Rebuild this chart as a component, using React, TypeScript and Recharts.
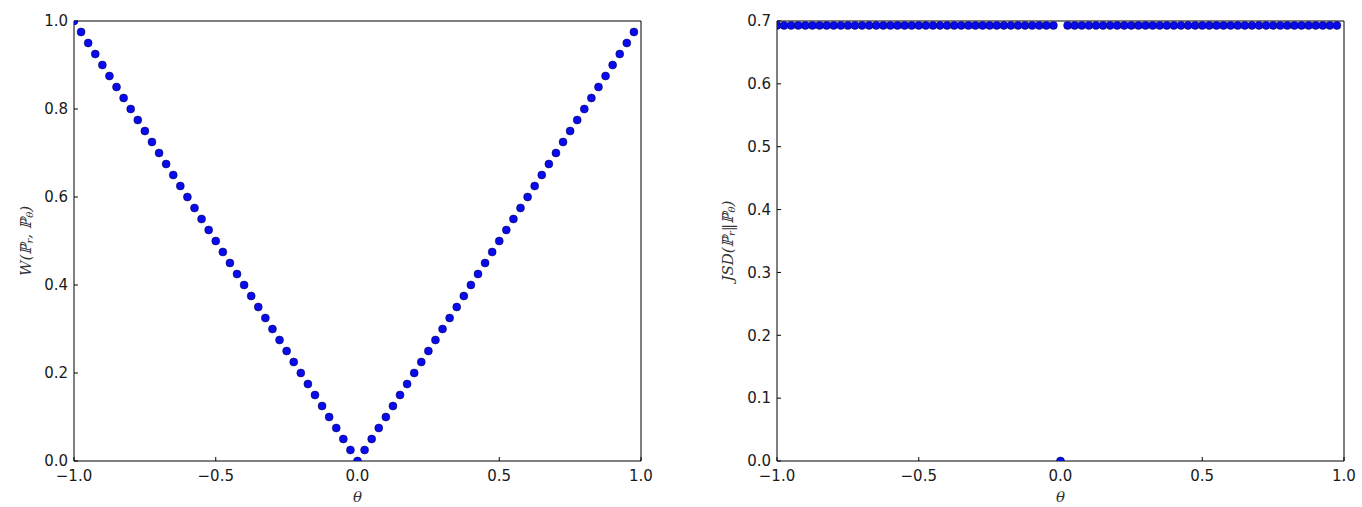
import React from 'react';
import { ScatterChart, Scatter, XAxis, YAxis } from 'recharts';

const thetaValues = [
  -1.0, -0.975, -0.95, -0.925, -0.9, -0.875, -0.85, -0.825, -0.8, -0.775,
  -0.75, -0.725, -0.7, -0.675, -0.65, -0.625, -0.6, -0.575, -0.55, -0.525,
  -0.5, -0.475, -0.45, -0.425, -0.4, -0.375, -0.35, -0.325, -0.3, -0.275,
  -0.25, -0.225, -0.2, -0.175, -0.15, -0.125, -0.1, -0.075, -0.05, -0.025,
  0.0, 0.025, 0.05, 0.075, 0.1, 0.125, 0.15, 0.175, 0.2, 0.225,
  0.25, 0.275, 0.3, 0.325, 0.35, 0.375, 0.4, 0.425, 0.45, 0.475,
  0.5, 0.525, 0.55, 0.575, 0.6, 0.625, 0.65, 0.675, 0.7, 0.725,
  0.75, 0.775, 0.8, 0.825, 0.85, 0.875, 0.9, 0.925, 0.95, 0.975,
];

const wassersteinValues = [
  1.0, 0.975, 0.95, 0.925, 0.9, 0.875, 0.85, 0.825, 0.8, 0.775,
  0.75, 0.725, 0.7, 0.675, 0.65, 0.625, 0.6, 0.575, 0.55, 0.525,
  0.5, 0.475, 0.45, 0.425, 0.4, 0.375, 0.35, 0.325, 0.3, 0.275,
  0.25, 0.225, 0.2, 0.175, 0.15, 0.125, 0.1, 0.075, 0.05, 0.025,
  0.0, 0.025, 0.05, 0.075, 0.1, 0.125, 0.15, 0.175, 0.2, 0.225,
  0.25, 0.275, 0.3, 0.325, 0.35, 0.375, 0.4, 0.425, 0.45, 0.475,
  0.5, 0.525, 0.55, 0.575, 0.6, 0.625, 0.65, 0.675, 0.7, 0.725,
  0.75, 0.775, 0.8, 0.825, 0.85, 0.875, 0.9, 0.925, 0.95, 0.975,
];

const jsdValues = [
  0.693, 0.693, 0.693, 0.693, 0.693, 0.693, 0.693, 0.693, 0.693, 0.693,
  0.693, 0.693, 0.693, 0.693, 0.693, 0.693, 0.693, 0.693, 0.693, 0.693,
  0.693, 0.693, 0.693, 0.693, 0.693, 0.693, 0.693, 0.693, 0.693, 0.693,
  0.693, 0.693, 0.693, 0.693, 0.693, 0.693, 0.693, 0.693, 0.693, 0.693,
  0.0, 0.693, 0.693, 0.693, 0.693, 0.693, 0.693, 0.693, 0.693, 0.693,
  0.693, 0.693, 0.693, 0.693, 0.693, 0.693, 0.693, 0.693, 0.693, 0.693,
  0.693, 0.693, 0.693, 0.693, 0.693, 0.693, 0.693, 0.693, 0.693, 0.693,
  0.693, 0.693, 0.693, 0.693, 0.693, 0.693, 0.693, 0.693, 0.693, 0.693,
];

const thetaTicks = [-1.0, -0.5, 0.0, 0.5, 1.0];
const wTicks = [0.0, 0.2, 0.4, 0.6, 0.8, 1.0];
const jsdTicks = [0.0, 0.1, 0.2, 0.3, 0.4, 0.5, 0.6, 0.7];

const wData = thetaValues.map((t, i) => ({ theta: t, value: wassersteinValues[i] }));
const jsdData = thetaValues.map((t, i) => ({ theta: t, value: jsdValues[i] }));

const fmtTick = (v: number) => (v < 0 ? '\u2212' + Math.abs(v).toFixed(1) : Math.abs(v).toFixed(1));

const tickStyle = { fontSize: 15, fill: '#1a1a1a', fontFamily: 'DejaVu Sans' };
const lineStyle = { stroke: '#000', strokeWidth: 1 };

const Dot = (props: any) => (
  <circle cx={props.cx} cy={props.cy} r={4} fill="#0a0aee" stroke="#00003a" strokeWidth={0.5} />
);

const NoDot = () => <g />;

const YLabel = (props: any) => {
  const vb = props.viewBox || { x: 0, y: 0, width: 0, height: 0 };
  const cx = vb.x + props.dx;
  const cy = vb.y + vb.height / 2;
  const sub = { fontSize: 10 };
  return (
    <text
      x={cx}
      y={cy}
      transform={`rotate(-90, ${cx}, ${cy})`}
      textAnchor="middle"
      dominantBaseline="central"
      fontFamily="DejaVu Serif"
      fontStyle="italic"
      fontSize={15}
      fill="#333"
    >
      {props.kind === 'w' ? (
        <>
          {'W(\u2119'}
          <tspan {...sub} dy={3}>r</tspan>
          <tspan dy={-3}>{', \u2119'}</tspan>
          <tspan {...sub} dy={3}>{'\u03b8'}</tspan>
          <tspan dy={-3}>)</tspan>
        </>
      ) : (
        <>
          {'JSD(\u2119'}
          <tspan {...sub} dy={3}>r</tspan>
          <tspan dy={-3}>{'\u2016\u2119'}</tspan>
          <tspan {...sub} dy={3}>{'\u03b8'}</tspan>
          <tspan dy={-3}>)</tspan>
        </>
      )}
    </text>
  );
};

type PanelProps = {
  left: number;
  width: number;
  marginLeft: number;
  marginRight: number;
  data: { theta: number; value: number }[];
  yDomain: [number, number];
  yTicks: number[];
  kind: string;
  labelDx: number;
};

function Panel({ left, width, marginLeft, marginRight, data, yDomain, yTicks, kind, labelDx }: PanelProps) {
  return (
    <div style={{ position: 'absolute', left, top: 0 }}>
      <ScatterChart
        width={width}
        height={507}
        margin={{ top: 20, right: marginRight, bottom: 0, left: marginLeft }}
        style={{ fontFamily: 'DejaVu Sans' }}
      >
        <XAxis
          xAxisId="b"
          dataKey="theta"
          type="number"
          orientation="bottom"
          domain={[-1, 1]}
          ticks={thetaTicks}
          interval={0}
          allowDataOverflow
          height={46}
          tickSize={-4}
          tickMargin={13}
          tickFormatter={fmtTick}
          tick={tickStyle}
          axisLine={lineStyle}
          tickLine={lineStyle}
          label={{
            value: '\u03b8',
            position: 'insideBottom',
            offset: 5,
            style: { fontFamily: 'DejaVu Serif', fontStyle: 'italic', fontSize: 15, fill: '#333' },
          }}
        />
        <XAxis
          xAxisId="t"
          dataKey="theta"
          type="number"
          orientation="top"
          domain={[-1, 1]}
          ticks={thetaTicks}
          interval={0}
          allowDataOverflow
          height={1}
          tickSize={-4}
          tick={false}
          axisLine={lineStyle}
          tickLine={lineStyle}
        />
        <YAxis
          yAxisId="l"
          dataKey="value"
          type="number"
          orientation="left"
          domain={yDomain}
          ticks={yTicks}
          interval={0}
          allowDataOverflow
          width={60}
          tickSize={-4}
          tickMargin={10}
          tickFormatter={fmtTick}
          tick={tickStyle}
          axisLine={lineStyle}
          tickLine={lineStyle}
          label={<YLabel kind={kind} dx={labelDx} />}
        />
        <YAxis
          yAxisId="r"
          dataKey="value"
          type="number"
          orientation="right"
          domain={yDomain}
          ticks={yTicks}
          interval={0}
          allowDataOverflow
          width={1}
          tickSize={-4}
          tick={false}
          axisLine={lineStyle}
          tickLine={lineStyle}
        />
        <Scatter xAxisId="t" yAxisId="r" data={data} shape={NoDot} isAnimationActive={false} />
        <Scatter xAxisId="b" yAxisId="l" data={data} shape={Dot} isAnimationActive={false} />
      </ScatterChart>
    </div>
  );
}

export default function App() {
  return (
    <div style={{ position: 'absolute', left: 0, top: 0, width: 1362, height: 507, background: '#fff' }}>
      <Panel
        left={0}
        width={700}
        marginLeft={14}
        marginRight={58}
        data={wData}
        yDomain={[0, 1]}
        yTicks={wTicks}
        kind="w"
        labelDx={12}
      />
      <Panel
        left={700}
        width={662}
        marginLeft={17}
        marginRight={17}
        data={jsdData}
        yDomain={[0, 0.7]}
        yTicks={jsdTicks}
        kind="jsd"
        labelDx={11}
      />
    </div>
  );
}
